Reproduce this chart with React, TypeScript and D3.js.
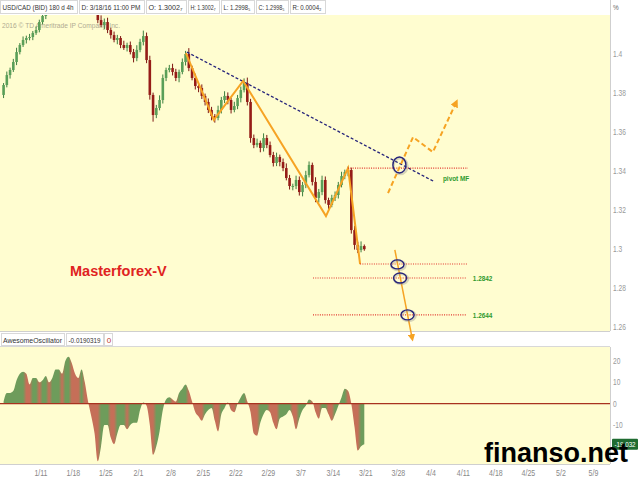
import React from 'react';
import * as d3 from 'd3';

const W = 640;
const H = 480;

// ---- axis ticks / labels ----
const priceTicks = [1.26, 1.28, 1.3, 1.32, 1.34, 1.36, 1.38, 1.4];
const aoTicks = [20, 10, 0, -10];
const dateLabels = ['1/11', '1/18', '1/25', '2/1', '2/8', '2/15', '2/22', '2/29', '3/7', '3/14', '3/21', '3/28', '4/4', '4/11', '4/18', '4/25', '5/2', '5/9'];
const BARS_PER_WEEK = 10;

// ---- header ----
const headerItems = [
  'USD/CAD (BID) 180 d 4h',
  'D: 3/18/16 11:00 PM',
  'O: 1.3002₇',
  'H: 1.3002₇',
  'L: 1.2998₅',
  'C: 1.2998₅',
  'R: 0.0004₂',
];
const oscHeader = ['AwesomeOscillator', '-0.0190319', '0'];
const aoLastLabel = '-19.032';

// ---- price bars (12h bars, index 0 = first bar of week 1/11) ----
const firstBar = -12;
const firstOpen = 1.379;
const closes = [
  1.3841, 1.3892, 1.3918, 1.3959, 1.401, 1.4046, 1.4072, 1.4082, 1.4087, 1.4108, 1.4123, 1.4164,
  1.4195, 1.424, 1.428, 1.432, 1.438, 1.442, 1.44, 1.446, 1.45, 1.452,
  1.455, 1.458, 1.462, 1.466, 1.46, 1.448, 1.428, 1.4174, 1.4149, 1.4164,
  1.4123, 1.4097, 1.4072, 1.4082, 1.4046, 1.4031, 1.4046, 1.401, 1.3979, 1.4021,
  1.4062, 1.4092, 1.3969, 1.379, 1.3687, 1.3723, 1.3764, 1.3877, 1.3918, 1.3928,
  1.3908, 1.3877, 1.3908, 1.3959, 1.4, 1.3928, 1.3877, 1.3836, 1.3826, 1.3785,
  1.3754, 1.3713, 1.3682, 1.3672, 1.3713, 1.3764, 1.3785, 1.3764, 1.3713, 1.3733,
  1.3774, 1.3815, 1.3851, 1.3754, 1.3569, 1.3533, 1.3544, 1.3518, 1.3569, 1.3533,
  1.3482, 1.3441, 1.3472, 1.3446, 1.3415, 1.3364, 1.3323, 1.3323, 1.3354, 1.3292,
  1.3328, 1.3379, 1.3431, 1.3344, 1.3262, 1.3292, 1.3354, 1.3251, 1.3226, 1.3262,
  1.3277, 1.3328, 1.3374, 1.3395, 1.3405, 1.3097, 1.3021, 1.2995, 1.3015, 1.2999,
];
// wick lengths in pips above / below the body
const wickUp = [
  10, 18, 12, 16, 22, 10, 18, 12, 16, 10, 18, 12,
  16, 12, 18, 10, 16, 12, 22, 10, 16, 18,
  12, 16, 22, 10, 30, 18, 12, 16, 24, 18,
  22, 12, 18, 16, 10, 22, 12, 18, 16, 24,
  16, 28, 18, 22, 12, 16, 24, 18, 12, 16,
  22, 16, 12, 18, 16, 30, 12, 22, 16, 18,
  12, 18, 16, 10, 22, 16, 24, 18, 12, 22,
  16, 18, 24, 28, 16, 18, 22, 12, 24, 16,
  18, 16, 22, 12, 18, 24, 16, 12, 22, 18,
  16, 22, 18, 12, 24, 16, 22, 18, 12, 16,
  18, 16, 22, 12, 18, 12, 22, 16, 24, 8,
];
const wickDn = [
  16, 12, 18, 10, 16, 12, 10, 18, 12, 16, 10, 12,
  12, 16, 10, 18, 12, 16, 10, 18, 12, 16,
  18, 12, 16, 22, 12, 10, 18, 16, 12, 22,
  16, 18, 12, 22, 16, 10, 18, 12, 22, 16,
  12, 18, 16, 24, 34, 16, 12, 18, 16, 12,
  18, 16, 22, 12, 18, 16, 12, 18, 22, 16,
  18, 16, 22, 24, 12, 18, 16, 22, 18, 12,
  16, 22, 12, 18, 24, 16, 12, 22, 18, 16,
  12, 18, 16, 22, 16, 12, 18, 22, 16, 18,
  22, 16, 12, 18, 22, 24, 16, 18, 22, 12,
  16, 18, 12, 16, 22, 18, 24, 16, 12, 8,
];
// Awesome Oscillator (x1000)
const ao = [
  1, 5, 5, 6, 11, 14, 15, 14, 9, 12, 12, 10,
  11, 13, 10, 12, 16, 16, 14, 20, 22, 19,
  14, 12, 16, 10, 1, -6, -14, -27, -20, -10,
  -10, -16, -19, -14, -10, -10, -12, -10, -9, -9,
  -3, 0.5, -1, -10, -24, -20, -13, -3, 2, 3,
  2, 1, 5, 7, 9, 6, 1, -4, -6, -8,
  -5, -3, -2, -8, -13, -5, -2, 0.5, -3, -4,
  0, 3, 5, 1, -4, -14, -15, -9, -5, -3,
  -4, -9, -12, -7, -6, -5, -3, -6, -12, -7,
  -3, -1, 2, 1, -4, -7, -2, -2, -5, -8,
  -5, -1, 3, 7, 6, 0, -11, -22, -20, -19,
];

// ---- annotations (bar index, price) ----
const trendLine: [number, number][] = [[44.9, 1.401], [121.2, 1.3344]];
const zigzag: [number, number][] = [[44.6, 1.4005], [53.2, 1.3662], [62.2, 1.3862], [87.7, 1.3169], [94.5, 1.3415], [98.2, 1.2923]];
const levelFrom = [94.5, 98.2, 83.7, 83.7];
const levelTo = [131.4, 131.1, 131.1, 131.1];
const levelPrice = [1.3415, 1.2923, 1.2851, 1.2662];
const levelTexts = ['pivot MF', '1.2842', '1.2644'];
const levelTextBar = [123.7, 132.9, 132.9];
const levelTextPrice = [1.3364, 1.2851, 1.2662];
const ellipseBar = [110.3, 109.7, 110.5, 112.8];
const ellipsePrice = [1.3431, 1.2921, 1.2851, 1.2662];
const ellipseRy = [8, 4.5, 5, 5];
const upPath: [number, number][] = [[106.8, 1.3287], [114.5, 1.3574], [120.6, 1.3497], [127.7, 1.3749]];
const downPath: [number, number][] = [[108.9, 1.2995], [114.2, 1.2544]];

const UI_FONT = '"Liberation Sans", Arial, "DejaVu Sans", sans-serif';

function CText(props: { x: number; y: number; text: string; size?: number; fill?: string; anchor?: string; sx?: number; weight?: string }) {
  const { x, y, text, size = 9, fill = '#888', anchor = 'start', sx = 0.8, weight = 'normal' } = props;
  return (
    <text transform={`translate(${x},${y}) scale(${sx},1)`} fontSize={size} fill={fill} textAnchor={anchor} fontFamily={UI_FONT} fontWeight={weight}>
      {text}
    </text>
  );
}

export default function App() {
  const plotR = 610;
  const mainTop = 15;
  const mainBot = 331;
  const oscTop = 347;
  const oscBot = 464;

  const x = d3.scaleLinear().domain([-12.6, 175.1]).range([0, plotR]);
  const yP = d3.scaleLinear().domain([1.26, 1.4]).range([327, 54]);
  const yA = d3.scaleLinear().domain([-10, 20]).range([425, 361]);

  const bars = closes.map((c, k) => {
    const i = firstBar + k;
    const o = k === 0 ? firstOpen : closes[k - 1];
    const h = Math.max(o, c) + wickUp[k] * 0.0001;
    const l = Math.min(o, c) - wickDn[k] * 0.0001;
    return { i, o, c, h, l };
  });

  const line = d3.line<[number, number]>().x((d) => x(d[0])).y((d) => yP(d[1]));

  const aoPts = ao.map((v, k) => ({ i: firstBar + k, v, rising: k === 0 ? true : v >= ao[k - 1] }));
  const aoArea = d3.area<{ i: number; v: number }>()
    .x((d) => x(d.i + 0.5))
    .y0(yA(0))
    .y1((d) => yA(d.v))
    .curve(d3.curveMonotoneX);

  const headerX = [0, 79, 146, 188, 221, 256, 290, 327];
  const orange = '#f6a323';
  const navy = '#25237a';
  const bw = 2.6;

  return (
    <svg width={W} height={H} style={{ position: 'fixed', left: 0, top: 0, background: '#fff' }}>
      <defs>
        <clipPath id="mainClip">
          <rect x={0} y={mainTop} width={plotR} height={mainBot - mainTop} />
        </clipPath>
        <clipPath id="oscClip">
          <rect x={0} y={oscTop} width={plotR} height={oscBot - oscTop} />
        </clipPath>
        <linearGradient id="aoGrad" gradientUnits="userSpaceOnUse" x1={0} x2={plotR} y1={0} y2={0}>
          {aoPts.map((d) => (
            <stop key={d.i} offset={x(d.i + 0.5) / plotR} stopColor={d.rising ? '#6e9c5b' : '#c56f58'} />
          ))}
        </linearGradient>
        <marker id="arrowO" viewBox="0 0 10 10" refX="5" refY="5" markerWidth="4" markerHeight="4" orient="auto">
          <path d="M0,0 L10,5 L0,10 z" fill={orange} />
        </marker>
        <marker id="arrowO2" viewBox="0 0 10 10" refX="5" refY="5" markerWidth="5" markerHeight="5" orient="auto">
          <path d="M0,0 L10,5 L0,10 z" fill={orange} />
        </marker>
      </defs>
      <rect x={0} y={0} width={W} height={H} fill="#fff" />

      {/* main panel */}
      <rect x={0} y={mainTop} width={plotR} height={mainBot - mainTop} fill="#fffdd0" />
      <text x={2} y={28} fontSize={7.5} fill="#b0ab90" fontFamily={UI_FONT} textLength={118} lengthAdjust="spacingAndGlyphs">2016 © TD Ameritrade IP Company, Inc.</text>
      <g clipPath="url(#mainClip)">
        {bars.map((b) => {
          const cx = x(b.i + 0.5);
          const up = b.c >= b.o;
          const col = up ? '#5a9f58' : '#961c17';
          const top = yP(Math.max(b.o, b.c));
          const bot = yP(Math.min(b.o, b.c));
          return (
            <g key={b.i}>
              <line x1={cx} x2={cx} y1={yP(b.h)} y2={yP(b.l)} stroke={up ? '#3d7f3f' : '#7d1612'} strokeWidth={1} />
              <rect x={cx - bw / 2} y={top} width={bw} height={Math.max(1, bot - top)} fill={col} />
            </g>
          );
        })}
      </g>
      <line x1={plotR + 0.5} x2={plotR + 0.5} y1={0} y2={mainBot} stroke="#cfcfcf" />
      <line x1={0} x2={plotR} y1={mainBot + 0.5} y2={mainBot + 0.5} stroke="#cfcfcf" />

      {/* header */}
      <rect x={0} y={0} width={plotR} height={mainTop} fill="#fff" />
      {headerItems.map((h, k) => {
        const w = headerX[k + 1] - headerX[k];
        return (
          <g key={k}>
            <rect x={headerX[k] + 0.5} y={0.5} width={w - 2} height={mainTop - 2} fill="#fff" stroke="#d8d8d8" />
            <text x={headerX[k] + 2.5} y={10} fontSize={6.5} fill="#333" fontFamily={UI_FONT}
              textLength={w - 8} lengthAdjust="spacingAndGlyphs">{h}</text>
          </g>
        );
      })}

      {/* price axis */}
      {priceTicks.map((t) => (
        <CText key={t} x={613} y={yP(t) + 3} text={String(t)} size={8.5} fill="#999" sx={0.78} />
      ))}
      <CText x={613} y={10} text="%" size={8} fill="#666" sx={0.8} />

      {/* oscillator header */}
      <rect x={0} y={mainBot + 2} width={plotR} height={oscTop - mainBot - 2} fill="#fff" />
      <rect x={1.5} y={333.5} width={63} height={12} fill="#fff" stroke="#d8d8d8" />
      <text x={3} y={343} fontSize={7.5} fill="#333" fontFamily={UI_FONT} textLength={59} lengthAdjust="spacingAndGlyphs">{oscHeader[0]}</text>
      <rect x={66.5} y={333.5} width={37} height={12} fill="#fff" stroke="#d8d8d8" />
      <text x={68.5} y={343} fontSize={7} fill="#333" fontFamily={UI_FONT} textLength={32} lengthAdjust="spacingAndGlyphs">{oscHeader[1]}</text>
      <rect x={104.5} y={333.5} width={8} height={12} fill="#fff" stroke="#d8d8d8" />
      <text x={106.8} y={343} fontSize={8} fill="#c0392b" fontFamily={UI_FONT}>{oscHeader[2]}</text>

      {/* oscillator panel */}
      <rect x={0} y={oscTop} width={plotR} height={oscBot - oscTop} fill="#fffdd0" />
      <g clipPath="url(#oscClip)">
        <path d={aoArea(aoPts) || ''} fill="url(#aoGrad)" />
        <line x1={0} x2={plotR} y1={yA(0)} y2={yA(0)} stroke="#a8321f" strokeWidth={1.2} />
      </g>
      <line x1={plotR + 0.5} x2={plotR + 0.5} y1={oscTop} y2={oscBot} stroke="#cfcfcf" />
      <line x1={0} x2={plotR} y1={oscTop - 0.5} y2={oscTop - 0.5} stroke="#d8d8d8" />
      <line x1={0} x2={plotR} y1={oscBot + 0.5} y2={oscBot + 0.5} stroke="#cfcfcf" />
      {aoTicks.map((t) => (
        <CText key={t} x={613} y={yA(t) + 3} text={String(t)} size={8.5} fill="#999" sx={0.78} />
      ))}
      <rect x={612} y={yA(ao[ao.length - 1]) - 5.5} width={26} height={11} fill="#1f6b31" rx={1} />
      <CText x={625} y={yA(ao[ao.length - 1]) + 3} text={aoLastLabel} size={8} fill="#fff" anchor="middle" sx={0.78} />

      {/* date axis */}
      {dateLabels.map((d, w) => (
        <CText key={d} x={x(w * BARS_PER_WEEK)} y={476} text={d} size={9} fill="#888" anchor="middle" sx={0.78} />
      ))}

      {/* annotations */}
      <path d={line(trendLine) || ''} fill="none" stroke={navy} strokeWidth={1.3} strokeDasharray="3,2" />
      <path d={line(zigzag) || ''} fill="none" stroke={orange} strokeWidth={2} strokeLinejoin="miter" />
      {levelPrice.map((p, k) => (
        <line key={k} x1={x(levelFrom[k])} x2={x(levelTo[k])} y1={yP(p)} y2={yP(p)} stroke="#e0332b" strokeWidth={1.1} strokeDasharray="1,1.3" />
      ))}
      {levelTexts.map((t, k) => (
        <CText key={t} x={x(levelTextBar[k])} y={yP(levelTextPrice[k]) + 3} text={t} size={8} fill="#2e9a2e" weight="bold" sx={0.8} />
      ))}
      <path d={line(upPath) || ''} fill="none" stroke={orange} strokeWidth={2} strokeDasharray="5,3" markerEnd="url(#arrowO)" />
      <path d={line(downPath) || ''} fill="none" stroke={orange} strokeWidth={1.5} markerEnd="url(#arrowO2)" />
      {ellipseBar.map((b, k) => (
        <g key={k}>
          <ellipse cx={x(b) + 1} cy={yP(ellipsePrice[k]) + 1} rx={7} ry={ellipseRy[k]} fill="none" stroke="#8a8a8a" strokeOpacity={0.35} strokeWidth={2.5} />
          <ellipse cx={x(b)} cy={yP(ellipsePrice[k])} rx={6.5} ry={ellipseRy[k]} fill="none" stroke={navy} strokeWidth={1.4} />
        </g>
      ))}

      <text x={70} y={276} fontSize={14.5} fontWeight="bold" fill="#e0231f" fontFamily={UI_FONT}>Masterforex-V</text>

      <text x={484} y={462} fontSize={27} fontWeight="bold" fill="#000" fontFamily={UI_FONT}>finanso.net</text>
    </svg>
  );
}
